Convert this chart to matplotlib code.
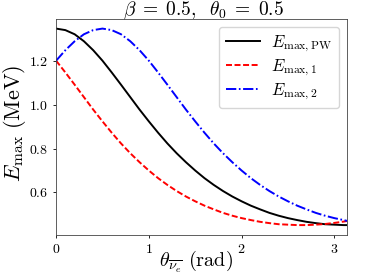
import matplotlib
matplotlib.use("Agg")
import matplotlib.pyplot as plt
import numpy as np

plt.rcParams["mathtext.fontset"] = "cm"
plt.rcParams["font.family"] = "serif"
plt.rcParams["font.serif"] = ["cmr10", "DejaVu Serif"]
plt.rcParams["axes.formatter.use_mathtext"] = True
plt.rcParams["axes.unicode_minus"] = False
plt.rcParams["lines.scale_dashes"] = False

# angle samples (rad), last point is pi
theta = [0.0, 0.1, 0.2, 0.3, 0.4, 0.5, 0.6, 0.7, 0.8, 0.9,
         1.0, 1.1, 1.2, 1.3, 1.4, 1.5, 1.6, 1.7, 1.8, 1.9,
         2.0, 2.1, 2.2, 2.3, 2.4, 2.5, 2.6, 2.7, 2.8, 2.9,
         3.0, 3.1, np.pi]

e_pw = [1.350, 1.343, 1.324, 1.292, 1.251, 1.203, 1.149, 1.093, 1.036, 0.979,
        0.925, 0.873, 0.824, 0.779, 0.738, 0.700, 0.665, 0.634, 0.606, 0.581,
        0.559, 0.539, 0.522, 0.506, 0.493, 0.482, 0.473, 0.465, 0.459, 0.454,
        0.452, 0.450, 0.450]

e_1 = [1.203, 1.149, 1.093, 1.036, 0.979, 0.925, 0.873, 0.824, 0.779, 0.738,
       0.700, 0.665, 0.634, 0.606, 0.581, 0.559, 0.539, 0.522, 0.506, 0.493,
       0.482, 0.473, 0.465, 0.459, 0.454, 0.452, 0.450, 0.450, 0.452, 0.455,
       0.460, 0.466, 0.469]

e_2 = [1.203, 1.251, 1.292, 1.324, 1.343, 1.350, 1.343, 1.324, 1.292, 1.251,
       1.203, 1.149, 1.093, 1.036, 0.979, 0.925, 0.873, 0.824, 0.779, 0.738,
       0.700, 0.665, 0.634, 0.606, 0.581, 0.559, 0.539, 0.522, 0.506, 0.493,
       0.482, 0.473, 0.469]

labels = [r"$E_{\max,\mathrm{PW}}$", r"$E_{\max,1}$", r"$E_{\max,2}$"]

fig = plt.figure(figsize=(3.74, 2.80), dpi=100)
ax = fig.add_axes([0.150, 0.161, 0.779, 0.772])

ax.plot(theta, e_pw, color="k", lw=1.4, label=labels[0])
ax.plot(theta, e_1, color="r", lw=1.4, dashes=(4.3, 1.85), label=labels[1])
ax.plot(theta, e_2, color="b", lw=1.4, dashes=(7.4, 1.85, 1.2, 1.85), label=labels[2])

ax.set_xlim(0, np.pi)
ax.set_xticks([0, 1, 2, 3])
ax.set_yticks([0.6, 0.8, 1.0, 1.2])
ax.tick_params(labelsize=10, width=0.6, length=2.5)
for s in ax.spines.values():
    s.set_linewidth(0.6)
    s.set_color("#444444")

# title placed by baseline so it sits just under the top edge
fig.text(0.544, 1 - 15 / 280, r"$\beta\;=\;0.5,\ \;\theta_0\;=\;0.5$",
         fontsize=14, ha="center", va="baseline")
ax.set_xlabel(r"$\theta_{\overline{\nu_e}}\ \mathrm{(rad)}$", fontsize=14.5)
ax.xaxis.set_label_coords(0.481, -0.064)
ax.set_ylabel(r"$E_{\max}\ \mathrm{(MeV)}$", fontsize=16)
ax.yaxis.set_label_coords(-0.097, 0.516)

ax.legend(loc="upper right", fontsize=12, labelspacing=0.2, handlelength=2.05,
          handletextpad=0.7)

fig.savefig("out.png", dpi=100)
